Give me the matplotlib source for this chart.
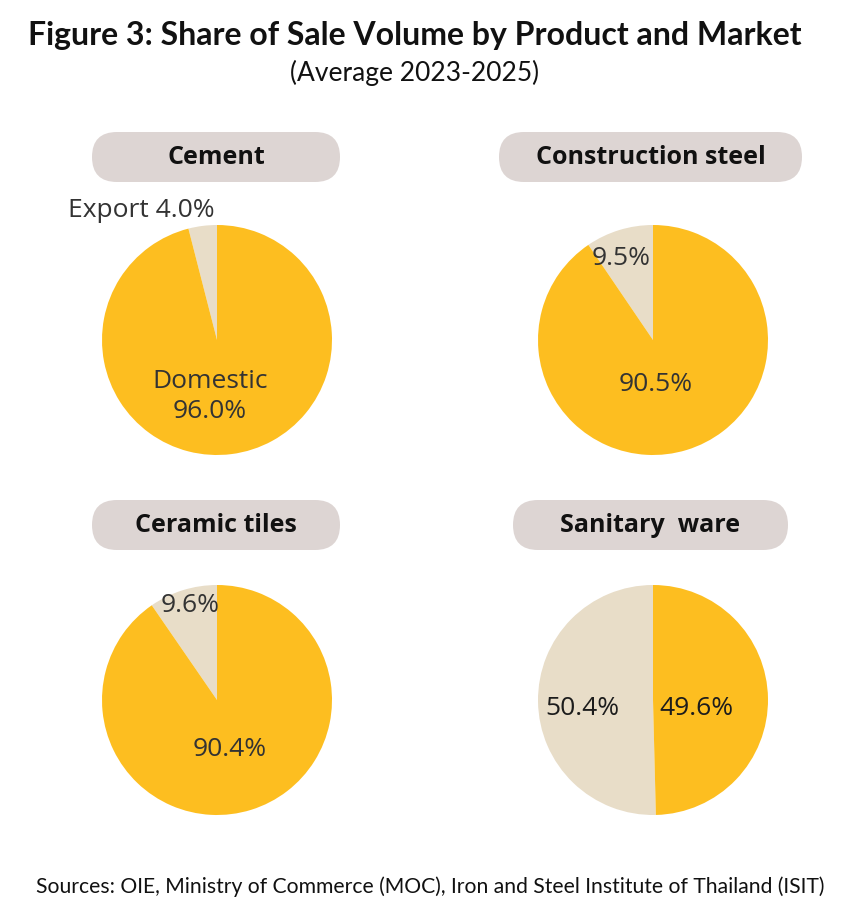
import matplotlib.pyplot as plt
from matplotlib.patches import FancyBboxPatch

# ============================================================================
# DATA
# ============================================================================
products = ['Cement', 'Construction steel', 'Ceramic tiles', 'Sanitary  ware']
domestic = [96.0, 90.5, 90.4, 49.6]
export = [4.0, 9.5, 9.6, 50.4]

title = 'Figure 3: Share of Sale Volume by Product and Market'
subtitle = '(Average 2023-2025)'
source = 'Sources: OIE, Ministry of Commerce (MOC), Iron and Steel Institute of Thailand (ISIT)'

# ============================================================================
# STYLE / LAYOUT (pixels)
# ============================================================================
W, H = 855, 918
DPI = 100
yellow = '#FDBE20'
beige = '#E8DDC8'
pill_color = '#DDD5D3'
label_color = '#333333'
title_font = 'Lato'
label_font = 'Open Sans'

# pie centres and radius, in pixels
centres = [(217, 340), (653, 340), (217, 700), (653, 700)]
radius_px = 115
# pill boxes (x0, x1, y centre)
pills = [(92, 340, 157), (499, 802, 157), (92, 340, 525), (513, 788, 525)]
# label offsets in units of pie radius: (export label, domestic label)
export_pos = [(-0.66, 1.13), (-0.28, 0.71), (-0.23, 0.82), (-0.61, -0.07)]
domestic_pos = [(-0.06, -0.49), (0.02, -0.39), (0.11, -0.43), (0.38, -0.07)]


def main():
    fig = plt.figure(figsize=(W / DPI, H / DPI), dpi=DPI)

    bg = fig.add_axes([0, 0, 1, 1])
    bg.set_xlim(0, W)
    bg.set_ylim(H, 0)
    bg.axis('off')

    bg.text(415, 36, title, ha='center', va='center', fontsize=23,
            fontweight='bold', family=title_font, color='#111111')
    bg.text(415, 73, subtitle, ha='center', va='center', fontsize=19,
            family=title_font, color='#111111')
    bg.text(430, 887, source, ha='center', va='center', fontsize=15.2,
            family=title_font, color='#111111')

    for (x0, x1, yc), name in zip(pills, products):
        h = 50
        box = FancyBboxPatch((x0, yc - h / 2), x1 - x0, h,
                             boxstyle='round,pad=0,rounding_size=25',
                             facecolor=pill_color, edgecolor='none')
        bg.add_patch(box)
        bg.text((x0 + x1) / 2, yc, name, ha='center', va='center',
                fontsize=18, fontweight='bold', family=label_font,
                color='#111111')

    for i, (cx, cy) in enumerate(centres):
        size = 2 * radius_px
        ax = fig.add_axes([(cx - radius_px) / W, 1 - (cy + radius_px) / H,
                           size / W, size / H])
        ax.pie([export[i], domestic[i]], colors=[beige, yellow],
               startangle=90, counterclock=True, radius=1,
               wedgeprops={'linewidth': 0})
        ax.set_xlim(-1, 1)
        ax.set_ylim(-1, 1)
        ax.set_aspect('equal')
        ax.axis('off')

        ex, ey = export_pos[i]
        dx, dy = domestic_pos[i]
        if i == 0:
            exp_txt = f'Export {export[i]:.1f}%'
            dom_txt = f'Domestic\n{domestic[i]:.1f}%'
        else:
            exp_txt = f'{export[i]:.1f}%'
            dom_txt = f'{domestic[i]:.1f}%'
        lc = '#1c1c1c' if i == 3 else label_color
        ax.text(ex, ey, exp_txt, ha='center', va='center', fontsize=19,
                family=label_font, color=lc, clip_on=False)
        ax.text(dx, dy, dom_txt, ha='center', va='center', fontsize=19,
                family=label_font, color=lc, clip_on=False,
                linespacing=1.25)

    fig.savefig('out.png', dpi=DPI)
    plt.close(fig)


if __name__ == '__main__':
    main()
